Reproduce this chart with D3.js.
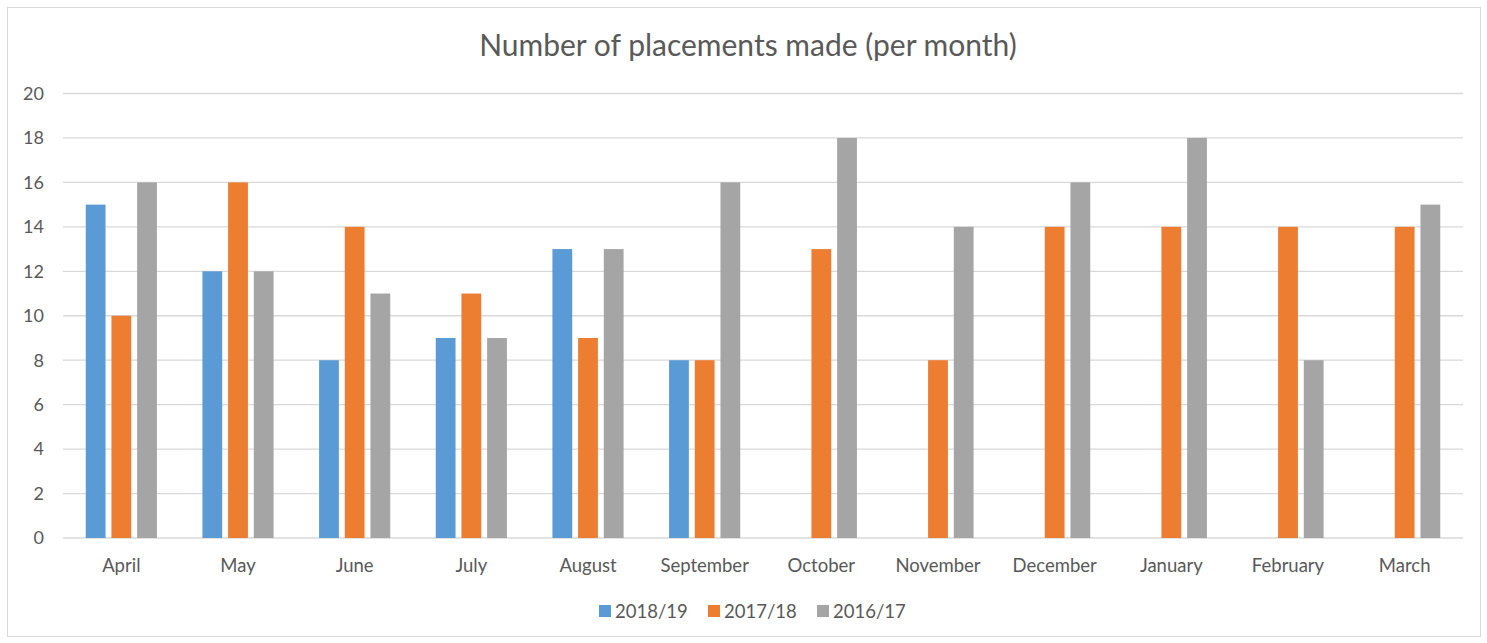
<!DOCTYPE html>
<html><head><meta charset="utf-8">
<script src="https://cdn.jsdelivr.net/npm/d3@7"></script>
<style>body{margin:0;background:#fff;font-family:Lato,"Open Sans",sans-serif;}</style>
</head><body>
<svg id="c" width="1487" height="643"></svg>
<script>
const months = ["April","May","June","July","August","September","October","November","December","January","February","March"];
const seriesNames = ["2018/19","2017/18","2016/17"];
const s2018 = [15,12,8,9,13,8,null,null,null,null,null,null];
const s2017 = [10,16,14,11,9,8,13,8,14,14,14,14];
const s2016 = [16,12,11,9,13,16,18,14,16,18,8,15];
const colors = ["#5B9BD5","#ED7D31","#A5A5A5"];
const yTicks = [0,2,4,6,8,10,12,14,16,18,20];

const svg = d3.select("#c");
svg.append("rect").attr("x",7.5).attr("y",7.5).attr("width",1473).attr("height",629)
  .attr("fill","#fff").attr("stroke","#d9d9d9");

const L=63,R=1463,T=93.5,B=538;
const x0 = d3.scaleBand().domain(months).range([L,R]).paddingInner(0.39).paddingOuter(0.195);
const x1 = d3.scaleBand().domain(seriesNames).range([0,x0.bandwidth()]).paddingInner(0.23);
const y = d3.scaleLinear().domain([0,20]).range([B,T]);

svg.append("g").selectAll("line").data(yTicks).join("line")
  .attr("x1",L).attr("x2",R).attr("y1",d=>y(d)).attr("y2",d=>y(d))
  .attr("stroke","#d9d9d9").attr("stroke-width",1.3);

svg.append("g").selectAll("text").data(yTicks).join("text")
  .attr("x",44).attr("y",d=>y(d)).attr("dy","0.35em").attr("text-anchor","end")
  .attr("font-size",18).attr("fill","#595959").text(d=>d);

const data = [s2018,s2017,s2016];
const g = svg.append("g");
data.forEach((arr,si)=>{
  g.selectAll(null).data(months.map((m,i)=>({m,v:arr[i]})).filter(d=>d.v!=null)).join("rect")
    .attr("x",d=>x0(d.m)+x1(seriesNames[si]))
    .attr("y",d=>y(d.v)).attr("width",x1.bandwidth()).attr("height",d=>y(0)-y(d.v))
    .attr("fill",colors[si]);
});

svg.append("g").selectAll("text").data(months).join("text")
  .attr("x",d=>x0(d)+x0.bandwidth()/2).attr("y",572).attr("text-anchor","middle")
  .attr("font-size",18.5).attr("fill","#595959").text(d=>d);

svg.append("text").attr("x",748).attr("y",56).attr("text-anchor","middle")
  .attr("font-size",30).attr("fill","#595959").text("Number of placements made (per month)");

const legX=[599,708,817];
const lg = svg.append("g");
seriesNames.forEach((n,i)=>{
  lg.append("rect").attr("x",legX[i]).attr("y",605).attr("width",12).attr("height",12).attr("fill",colors[i]);
  lg.append("text").attr("x",legX[i]+16).attr("y",617.5).attr("font-size",18.5).attr("fill","#595959").text(n);
});
</script>
</body></html>
